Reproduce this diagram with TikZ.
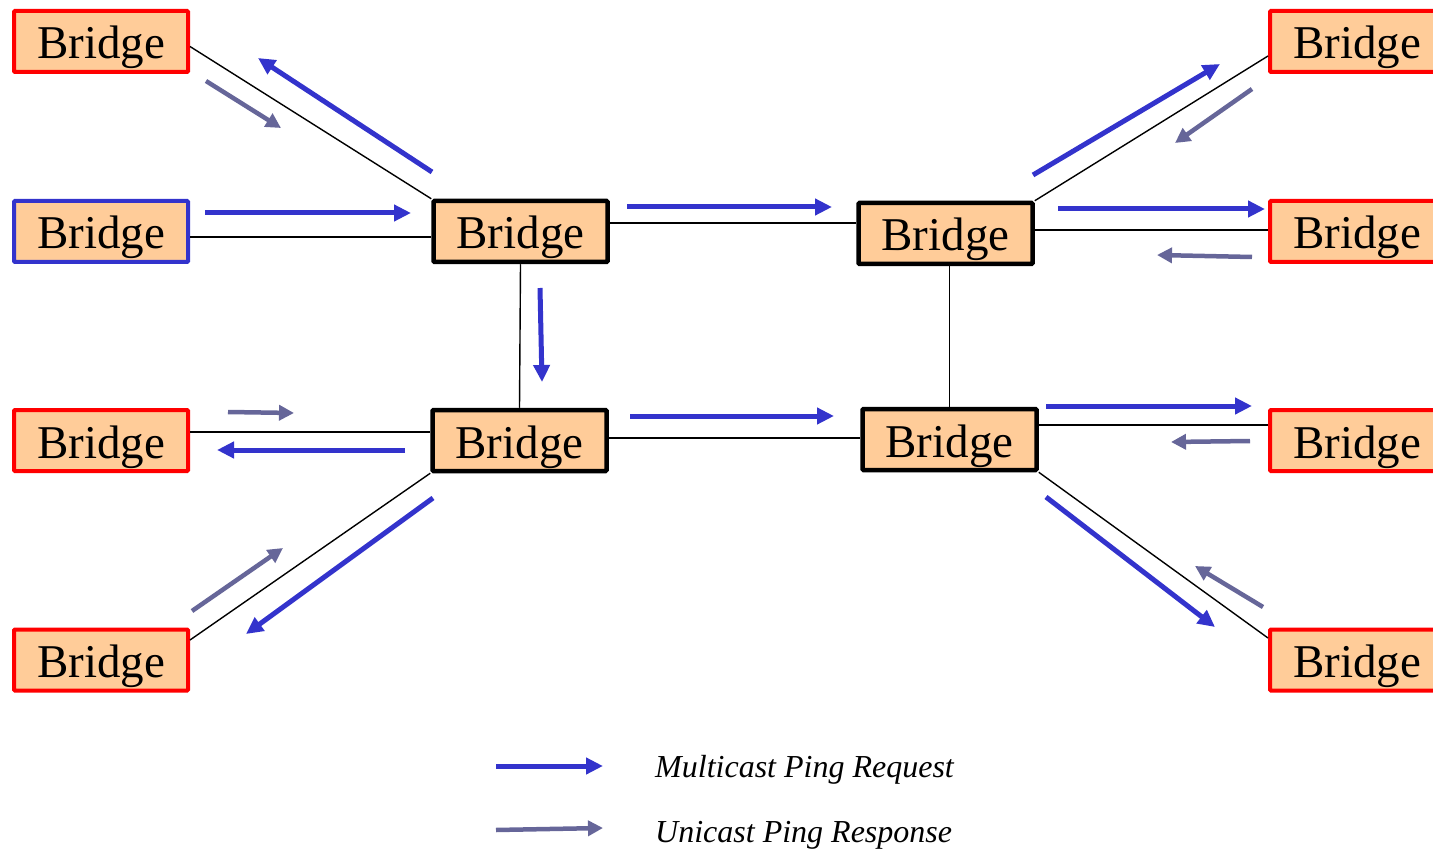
\documentclass[tikz,border=0pt]{standalone}
\usepackage{fontspec}
\setmainfont{Liberation Serif}
\usetikzlibrary{arrows.meta}
\definecolor{boxfill}{HTML}{FFCC99}
\definecolor{redb}{HTML}{FF0000}
\definecolor{blueb}{HTML}{3333CC}
\definecolor{reqc}{HTML}{3333CC}
\definecolor{resc}{HTML}{666699}
\tikzset{
  bridge/.style={draw, fill=boxfill, line width=4pt, rounded corners=1pt,
    minimum width=174pt, minimum height=61pt, inner sep=0pt,
    text height=37pt, text depth=2pt, font=\fontsize{47}{56}\selectfont},
  edgebox/.style={bridge, draw=redb},
  srcbox/.style={bridge, draw=blueb},
  corebox/.style={bridge, draw=black, line width=4.5pt},
  link/.style={draw=black, line width=1.4pt},
  req/.style={draw=reqc, line width=5pt, -{Triangle[length=17pt,width=16pt]}},
  res/.style={draw=resc, line width=4.5pt, -{Triangle[length=15pt,width=15pt]}},
  legtext/.style={anchor=base west, inner sep=0pt, font=\fontsize{32}{37}\selectfont\itshape}
}
\begin{document}
\begin{tikzpicture}[x=1pt,y=-1pt]
\useasboundingbox (0,0) rectangle (1433,853);
% nodes
\node[edgebox] (L1) at (101,41.5) {Bridge};
\node[srcbox]  (L2) at (101,231.5) {Bridge};
\node[edgebox] (L3) at (101,440.5) {Bridge};
\node[edgebox] (L4) at (101,660) {Bridge};
\node[edgebox] (R1) at (1357,41.5) {Bridge};
\node[edgebox] (R2) at (1357,231.5) {Bridge};
\node[edgebox] (R3) at (1357,440.5) {Bridge};
\node[edgebox] (R4) at (1357,660) {Bridge};
\node[corebox] (C1) at (520.5,231.5) {Bridge};
\node[corebox] (C2) at (945.5,233.5) {Bridge};
\node[corebox] (C3) at (519.5,440.5) {Bridge};
\node[corebox] (C4) at (949.5,439.5) {Bridge};
% links
\draw[link] ([yshift=-5pt]L1.east) -- (C1.north west);
\draw[link] (L2.east |- 0,237) -- (C1.west |- 0,237);
\draw[link] (C1.east |- 0,223) -- (C2.west |- 0,223);
\draw[link] (C1.south) -- (C3.north);
\draw[link] (C4.north |- C2.south) -- (C4.north);
\draw[link] (C3.east |- 0,438) -- (C4.west |- 0,438);
\draw[link] (C2.north east) -- (R1.west |- 0,56);
\draw[link] (C2.east |- 0,230) -- (R2.west |- 0,230);
\draw[link] (C4.east |- 0,425) -- (R3.west |- 0,425);
\draw[link] (C4.south east) -- (R4.west |- 0,638);
\draw[link] (L3.east |- 0,432) -- (C3.west |- 0,432);
\draw[link] (C3.south west) -- (L4.east |- 0,640);
% multicast requests
\draw[req] (432,172) -- (258,58);
\draw[req] (205,213) -- (411,213);
\draw[req] (627,207) -- (832,207);
\draw[req] (540,288) -- (542,382);
\draw[req] (630,416) -- (834,416);
\draw[req] (405,450) -- (217,450);
\draw[req] (433,498) -- (246,634);
\draw[req] (1033,175) -- (1220,64);
\draw[req] (1058,209) -- (1265,209);
\draw[req] (1046,406) -- (1252,406);
\draw[req] (1046,497) -- (1215,627);
% unicast responses
\draw[res] (206,81) -- (281,128);
\draw[res] (1252,89) -- (1175,143);
\draw[res] (1252,257) -- (1157,255);
\draw[res] (228,412) -- (294,413);
\draw[res] (192,611) -- (283,548);
\draw[res] (1250,441) -- (1171,442);
\draw[res] (1263,607) -- (1195,566);
% legend
\draw[req] (496,766) -- (603,766);
\draw[res] (496,830) -- (603,828);
\node[legtext] (lreq) at (655,777) {Multicast Ping Request};
\node[legtext] (lres) at (655,842) {Unicast Ping Response};
\end{tikzpicture}
\end{document}
